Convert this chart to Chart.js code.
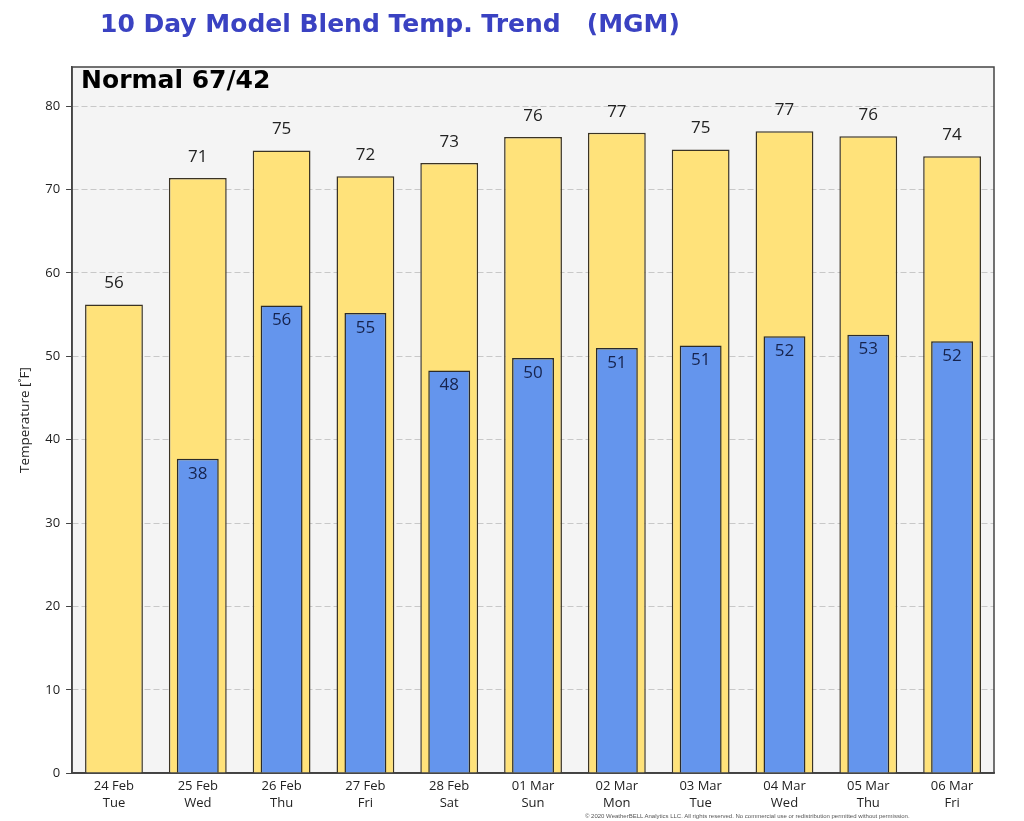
<!DOCTYPE html>
<html>
<head>
<meta charset="utf-8">
<script src="https://cdn.jsdelivr.net/npm/chart.js@4.4.1/dist/chart.umd.min.js"></script>
<style>
  html, body { margin: 0; padding: 0; background: #fff; }
  #wrap { position: relative; width: 1024px; height: 821px; overflow: hidden; }
  #title {
    position: absolute; left: 100px; top: 9px;
    font: bold 25px "DejaVu Sans", sans-serif; color: #3a42c2;
    white-space: pre;
  }
  #foot {
    position: absolute; left: 585px; top: 813px;
    font: 6px "Liberation Sans", Arial, sans-serif; color: #555; white-space: nowrap;
  }
  canvas { position: absolute; left: 0; top: 0; }
</style>
</head>
<body>
<div id="wrap">
  <canvas id="c" width="1024" height="821"></canvas>
  <div id="title">10 Day Model Blend Temp. Trend   (MGM)</div>
  <div id="foot">© 2020 WeatherBELL Analytics LLC. All rights reserved. No commercial use or redistribution permitted without permission.</div>
</div>
<script>
// ข้อมูลอ่านจากภาพ
const dates = ['24 Feb', '25 Feb', '26 Feb', '27 Feb', '28 Feb', '01 Mar', '02 Mar', '03 Mar', '04 Mar', '05 Mar', '06 Mar'];
const days  = ['Tue', 'Wed', 'Thu', 'Fri', 'Sat', 'Sun', 'Mon', 'Tue', 'Wed', 'Thu', 'Fri'];
const highs = [56.2, 71.4, 74.7, 71.6, 73.2, 76.3, 76.8, 74.8, 77.0, 76.4, 74.0];
const lows  = [null, 37.7, 56.1, 55.2, 48.3, 49.8, 51.0, 51.3, 52.4, 52.6, 51.8];
const yTicks = [0, 10, 20, 30, 40, 50, 60, 70, 80];
const normalText = 'Normal 67/42';

const FONT = '"Open Sans", "Noto Sans", sans-serif';

// พื้นหลังพื้นที่กราฟ + กรอบ + ป้ายตัวเลข
const decor = {
  id: 'decor',
  beforeDraw(chart) {
    const { ctx, chartArea: a } = chart;
    ctx.save();
    ctx.fillStyle = '#f4f4f4';
    ctx.fillRect(a.left, a.top, a.right - a.left, a.bottom - a.top);
    ctx.restore();
  },
  afterDraw(chart) {
    const { ctx, chartArea: a } = chart;
    ctx.save();
    ctx.strokeStyle = '#444';
    ctx.lineWidth = 1.5;
    ctx.strokeRect(a.left, a.top, a.right - a.left, a.bottom - a.top);

    ctx.font = 'bold 25px "DejaVu Sans", sans-serif';
    ctx.fillStyle = '#000';
    ctx.textBaseline = 'top';
    ctx.fillText(normalText, a.left + 9, a.top + 2);

    ctx.font = '17px ' + FONT;
    ctx.textAlign = 'center';
    ctx.textBaseline = 'middle';
    chart.getDatasetMeta(1).data.forEach((el, i) => {
      if (highs[i] == null) return;
      ctx.fillStyle = '#222';
      ctx.fillText(String(Math.round(highs[i])), el.x, el.y - 21);
    });
    chart.getDatasetMeta(0).data.forEach((el, i) => {
      if (lows[i] == null) return;
      ctx.fillStyle = '#16234d';
      ctx.fillText(String(Math.round(lows[i])), el.x, el.y + 15);
    });
    ctx.restore();
  }
};

function draw() {
  new Chart(document.getElementById('c'), {
    type: 'bar',
    data: {
      labels: dates.map((d, i) => [d, days[i]]),
      datasets: [
        {
          label: 'Low', data: lows, order: 0, grouped: false,
          backgroundColor: '#6495ed', borderColor: '#2b2b2b', borderWidth: 1.5,
          barPercentage: 0.5, categoryPercentage: 1
        },
        {
          label: 'High', data: highs, order: 1, grouped: false,
          backgroundColor: '#ffe27a', borderColor: '#3a3324', borderWidth: 1.5,
          barPercentage: 0.69, categoryPercentage: 1
        }
      ]
    },
    options: {
      responsive: false, animation: false,
      layout: { padding: { left: 13, right: 30, top: 67, bottom: 12 } },
      plugins: { legend: { display: false }, tooltip: { enabled: false } },
      scales: {
        x: {
          grid: { display: false },
          border: { color: '#444', width: 1.5 },
          ticks: { color: '#222', font: { family: FONT, size: 13, lineHeight: 1.3 }, maxRotation: 0, padding: -3 }
        },
        y: {
          min: 0, max: 84.7,
          afterBuildTicks: s => { s.ticks = yTicks.map(v => ({ value: v })); },
          grid: {
            color: '#c8c8c8', lineWidth: 1, drawTicks: true, tickLength: 6, tickColor: '#444',
            tickBorderDash: [], drawOnChartArea: true
          },
          border: { color: '#444', width: 1.5, dash: [6, 3] },
          ticks: { color: '#222', font: { family: FONT, size: 13 }, padding: 6 },
          title: { display: true, text: 'Temperature [˚F]', color: '#222', font: { family: FONT, size: 13.5 }, padding: { bottom: 6 } }
        }
      }
    },
    plugins: [decor]
  });
}

Promise.all([
  document.fonts.load('13px "Open Sans"'),
  document.fonts.load('bold 25px "DejaVu Sans"')
]).catch(() => {}).then(draw);
</script>
</body>
</html>
